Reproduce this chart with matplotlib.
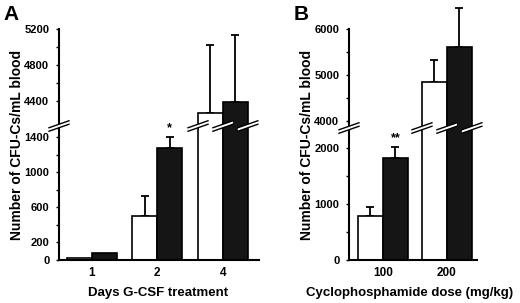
import matplotlib
matplotlib.use("Agg")
import matplotlib.pyplot as plt
import numpy as np
from matplotlib.patches import Polygon
from matplotlib.lines import Line2D

plt.rcParams['font.family'] = ['Liberation Sans', 'DejaVu Sans']
plt.rcParams['font.weight'] = 'bold'
plt.rcParams['axes.labelweight'] = 'bold'

# panel A data
days = ["1", "2", "4"]
a_ctrl = [25, 500, 4270]
a_ctrl_err = [0, 230, 750]
a_trt = [80, 1270, 4390]
a_trt_err = [0, 130, 740]

# panel B data
doses = ["100", "200"]
b_ctrl = [790, 4850]
b_ctrl_err = [160, 480]
b_trt = [1820, 5600]
b_trt_err = [200, 850]

W, H = 520, 303
fig = plt.figure(figsize=(W / 100, H / 100), dpi=100)


def frac(x0, y_top, x1, y_bot):
    # pixel box -> figure fraction
    return [x0 / W, 1 - y_bot / H, (x1 - x0) / W, (y_bot - y_top) / H]


def break_mark(ax, x, y, half=10, slope=0.35, gap=3.5):
    cx, cy = ax.transData.transform((x, y))
    pts = np.array([[cx - half, cy - slope * half - gap / 2],
                    [cx + half, cy + slope * half - gap / 2],
                    [cx + half, cy + slope * half + gap / 2],
                    [cx - half, cy - slope * half + gap / 2]])
    pts = fig.transFigure.inverted().transform(pts)
    fig.patches.append(Polygon(pts, closed=True, facecolor='white', edgecolor='none',
                               transform=fig.transFigure, zorder=10))
    for p, q in ((pts[0], pts[1]), (pts[3], pts[2])):
        fig.lines.append(Line2D([p[0], q[0]], [p[1], q[1]], color='black', lw=1.0,
                                transform=fig.transFigure, zorder=11))


def panel(box_low, box_up, lims_low, lims_up, ticks_low, labs_low, ticks_up, labs_up,
          xlim, cats, ctrl, ctrl_err, trt, trt_err, width, xlabel, xlab_x, letter, stars):
    lo = fig.add_axes(box_low)
    up = fig.add_axes(box_up)
    x = np.arange(len(cats))
    for ax in (lo, up):
        ax.bar(x - width / 2, ctrl, width, color='white', edgecolor='black', lw=1.2, zorder=2)
        ax.bar(x + width / 2, trt, width, color='#151515', edgecolor='black', lw=1.2, zorder=2)
        ax.set_xlim(*xlim)
        for s in ('top', 'right'):
            ax.spines[s].set_visible(False)
        ax.spines['left'].set_linewidth(1.5)
        ax.tick_params(axis='y', length=2, width=1, pad=5, labelsize=8)
        ax.set_facecolor('none')
    lo.set_ylim(*lims_low)
    up.set_ylim(*lims_up)
    up.spines['bottom'].set_visible(False)
    up.set_xticks([])
    lo.spines['bottom'].set_linewidth(1.5)
    lo.set_xticks(x)
    lo.set_xticklabels(cats, fontsize=8.5, fontweight='bold')
    lo.tick_params(axis='x', length=0, pad=5)
    lo.set_yticks(ticks_low)
    lo.set_yticklabels(labs_low, fontweight='bold')
    up.set_yticks(ticks_up)
    up.set_yticklabels(labs_up, fontweight='bold')

    # error bars (upward only)
    ctrl_err = np.array(ctrl_err)
    trt_err = np.array(trt_err)
    for vals, errs, off in ((ctrl, ctrl_err, -width / 2), (trt, trt_err, width / 2)):
        vals = np.array(vals)
        m_lo = (vals < lims_low[1]) & (errs > 0)
        m_up = (vals >= lims_up[0]) & (errs > 0)
        lo.errorbar(x[m_lo] + off, vals[m_lo], yerr=[np.zeros(m_lo.sum()), errs[m_lo]],
                    fmt='none', ecolor='black', elinewidth=1.3, capsize=3, capthick=1.3, zorder=1)
        eb = up.errorbar(x[m_up] + off, vals[m_up], yerr=[np.zeros(m_up.sum()), errs[m_up]],
                         fmt='none', ecolor='black', elinewidth=1.3, capsize=3, capthick=1.3, zorder=1)
        for art in list(eb.lines[1]) + list(eb.lines[2]):
            art.set_clip_on(False)

    for i, s in stars:
        lo.annotate(s, (x[i] + width / 2, trt[i] + trt_err[i]), xytext=(0, 2),
                    textcoords='offset points', ha='center', va='bottom', fontsize=9,
                    fontweight='bold')

    fig.text(xlab_x / W, 1 - 293 / H, xlabel, fontsize=9.5, fontweight='bold',
             ha='center', va='center')
    fig.text(box_low[0] - 0.08, (box_low[1] + box_up[1] + box_up[3]) / 2,
             'Number of CFU-Cs/mL blood', rotation=90, ha='center', va='center',
             fontsize=10, fontweight='bold')
    fig.text(box_low[0] - 0.107, 0.985, letter, fontsize=15, fontweight='bold',
             ha='left', va='top')

    # break marks on axis and across tall bars
    ybr = lims_low[1]
    break_mark(lo, xlim[0], ybr)
    for i, v in enumerate(ctrl):
        if v > lims_up[0]:
            break_mark(lo, x[i] - width, ybr)
            break_mark(lo, x[i], ybr)
    for i, v in enumerate(trt):
        if v > lims_up[0]:
            break_mark(lo, x[i] + width, ybr)


panel(frac(59, 126, 259, 260), frac(59, 29, 259, 126), (0, 1525), (4120, 5200),
      [0, 200, 400, 600, 800, 1000, 1200, 1400], ['0', '200', '', '600', '', '1000', '', '1400'],
      [4400, 4600, 4800, 5000, 5200], ['4400', '', '4800', '', '5200'],
      (-0.5, 2.55), days, a_ctrl, a_ctrl_err, a_trt, a_trt_err, 0.38,
      'Days G-CSF treatment', 158, 'A', [(1, '*')])

panel(frac(349, 128, 477, 260), frac(349, 29, 477, 128), (0, 2360), (3850, 6000),
      [0, 500, 1000, 1500, 2000], ['0', '', '1000', '', '2000'],
      [4000, 4500, 5000, 5500, 6000], ['4000', '', '5000', '', '6000'],
      (-0.53, 1.47), doses, b_ctrl, b_ctrl_err, b_trt, b_trt_err, 0.39,
      'Cyclophosphamide dose (mg/kg)', 410, 'B', [(0, '**')])

fig.savefig('out.png', dpi=100)
